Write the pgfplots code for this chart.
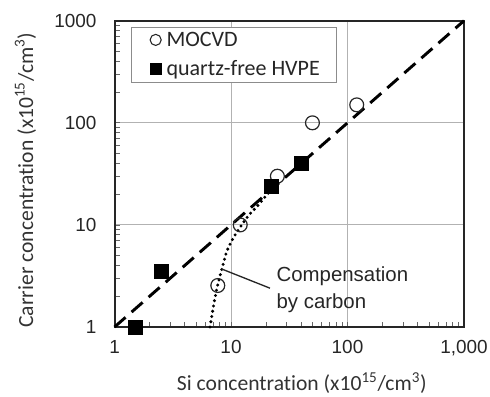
\documentclass[border=0pt]{standalone}
\usepackage{fontspec}
\setmainfont[Ligatures=CommonOff]{Carlito}
\newfontfamily\arial{Liberation Sans}
\usepackage{pgfplots}
\pgfplotsset{compat=1.18}
\begin{document}
\begin{tikzpicture}
\useasboundingbox (-85.9pt,-52.5pt) rectangle (281.6pt,245.25pt);
\begin{axis}[
  xmode=log, ymode=log,
  scale only axis,
  width=262.1pt, height=229.7pt,
  xmin=1, xmax=1000, ymin=1, ymax=1000,
  xtick={1,10,100,1000}, xticklabels={1,10,100,{1,000}},
  ytick={1,10,100,1000}, yticklabels={1,10,100,1000},
  tick label style={font=\arial\fontsize{14.2}{16}\selectfont, text=black!85},
  xticklabel style={yshift=-6.5pt},
  yticklabel style={xshift=-10pt},
  tick align=inside, tick pos=left,
  major tick length=0pt, minor tick length=4pt,
  minor tick style={black!60, line width=0.6pt},
  grid=major, major grid style={black!30, line width=0.7pt},
  axis line style={line width=1.5pt, black!85},
  xlabel={Si concentration (x10\textsuperscript{15}/cm\textsuperscript{3})},
  ylabel={Carrier concentration (x10\textsuperscript{15}/cm\textsuperscript{3})},
  label style={font=\fontsize{16.2}{18}\selectfont, text=black!80},
  xlabel style={at={(axis description cs:0.536,-0.183)}, anchor=center},
  ylabel style={at={(axis description cs:-0.255,0.48)}, anchor=center, rotate=0},
  clip=false,
  legend image code/.code={\path (-9.5pt,0pt); \draw[#1, mark options={scale=0.8}] plot coordinates {(0pt,0pt)};},
  legend style={at={(axis description cs:0.046,0.981)}, anchor=north west,
    draw=black!45, line width=0.8pt, fill=white, font=\fontsize{16.5}{19}\selectfont,
    inner xsep=8.5pt, inner ysep=1.5pt, row sep=5.5pt, text=black!85,
    nodes={inner xsep=4pt, inner ysep=2pt}},
  legend cell align=left,
]
\addplot[forget plot, black, line width=2.2pt, dash pattern=on 11pt off 6pt] coordinates {(1,1) (1000,1000)};
\addplot[forget plot, black, line width=2.5pt, line cap=round, dash pattern=on 0pt off 4pt, smooth] coordinates {
  (6.6,1) (7.2,1.8) (7.7,2.6) (8.3,3.6) (9.2,5.5) (10.5,7.5) (12,9.5) (14,12.2) (17,15.5) (20.5,20) (22,22)};
\addplot[only marks, mark=o, mark size=5.2pt, black!85, mark options={line width=0.9pt}] coordinates {
  (7.7,2.55) (12,10) (25,30) (50,100) (120,150)};
\addlegendentry{MOCVD}
\addplot[only marks, mark=square*, mark size=5.25pt, black] coordinates {
  (1.5,1) (2.5,3.55) (22,23.7) (40,40)};
\addlegendentry{quartz-free HVPE}
\draw[black!85, line width=1pt] (axis cs:8.32,3.7) -- (axis cs:21.6,2.4);
\node[anchor=west, align=left, font=\arial\fontsize{15.3}{20}\selectfont, text=black!85, inner sep=0pt] at (axis cs:24.5,2.33) {Compensation\\by carbon};
\end{axis}
\end{tikzpicture}
\end{document}
